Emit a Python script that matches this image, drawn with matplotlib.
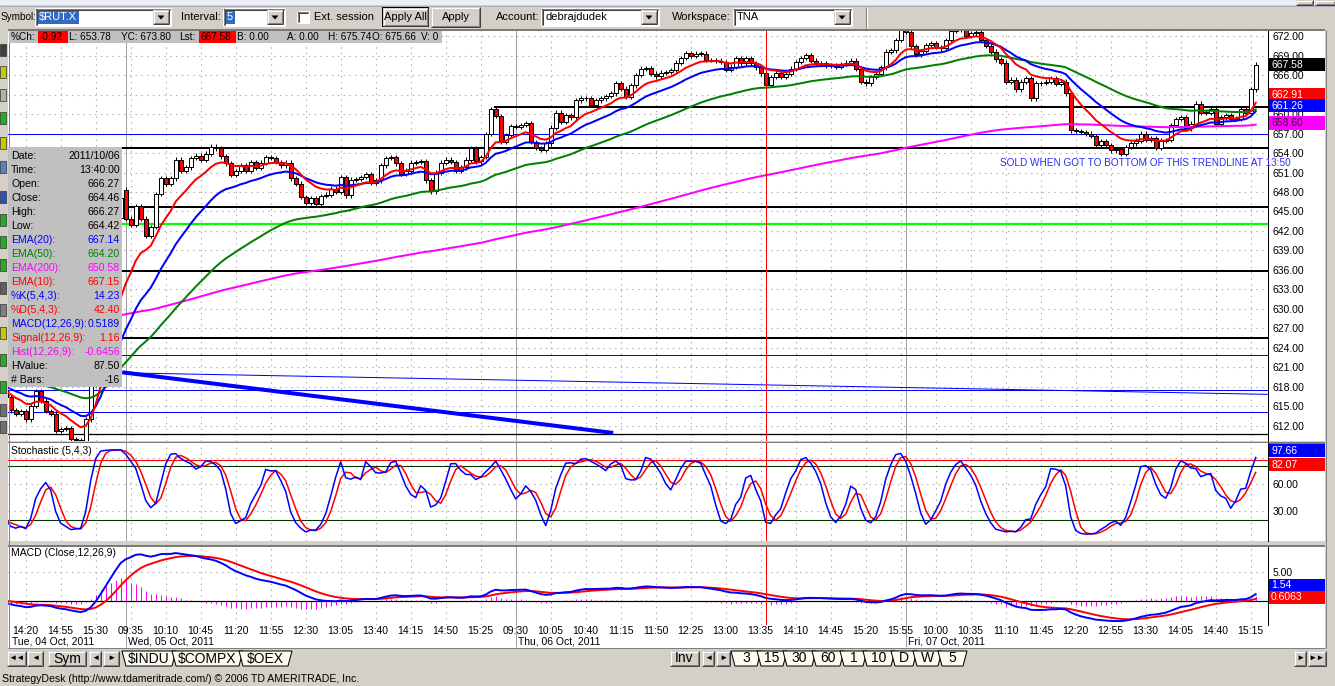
import numpy as np
import pandas as pd
import matplotlib
matplotlib.use("Agg")
import matplotlib.pyplot as plt
from matplotlib.patches import Rectangle, Polygon

plt.rcParams['font.family'] = ['Liberation Sans', 'DejaVu Sans']

# ---------------------------------------------------------------- data
# 5-minute closes of $RUT.X
OCT4_CLOSE = [616.5, 614.4, 613.9, 614.3, 613.0, 615.1, 617.4, 615.9, 614.3, 613.9,
              611.2, 611.5, 611.7, 610.0, 609.8, 609.4, 613.0, 618.4, 625.0, 631.0,
              636.0, 640.0, 644.0, 647.0]
OCT5_CLOSE = [643.9, 642.9, 645.8, 643.9, 641.3, 642.6, 647.7, 650.1, 649.3, 650.1,
              653.0, 651.2, 651.8, 653.2, 653.6, 652.9, 653.9, 655.0, 654.7, 653.5,
              652.4, 650.6, 651.2, 652.1, 651.3, 652.6, 651.7, 652.5, 653.4, 653.2,
              652.6, 652.1, 652.5, 650.1, 649.3, 647.2, 646.3, 647.0, 646.2, 647.4,
              647.6, 648.5, 648.0, 650.3, 647.5, 649.9, 650.0, 650.3, 650.7, 649.4,
              649.8, 652.1, 653.2, 653.4, 652.4, 650.8, 651.3, 652.5, 652.6, 652.7,
              649.8, 648.1, 651.0, 652.5, 653.0, 652.6, 651.3, 651.8, 653.0, 654.7,
              652.7, 653.4, 656.9, 660.8, 659.7, 655.7, 656.7, 658.1]
OCT6_CLOSE = [658.0, 658.3, 658.6, 655.7, 654.8, 654.5, 655.5, 657.9, 660.2, 658.8,
              659.8, 659.5, 662.1, 662.4, 662.4, 661.4, 662.1, 662.4, 662.75, 663.2,
              664.7, 663.9, 662.6, 664.4, 666.0, 667.0, 667.1, 666.2, 665.8, 666.35,
              666.5, 666.8, 667.9, 668.6, 669.4, 668.9, 669.3, 669.3, 668.3, 668.3,
              668.2, 668.0, 666.8, 667.3, 668.6, 667.8, 668.6, 667.8, 667.2, 666.27,
              664.46, 665.7, 666.35, 665.7, 666.2, 667.0, 668.0, 668.6, 669.1, 668.2,
              667.8, 667.8, 667.5, 667.5, 667.3, 667.7, 667.9, 668.2, 666.9, 665.0,
              664.7, 665.7, 666.2, 667.2, 669.6, 669.8, 671.4, 673.8]
OCT7_CLOSE = [672.6, 670.4, 669.2, 669.7, 670.6, 670.9, 670.3, 670.1, 671.4, 672.8,
              673.5, 673.0, 672.0, 672.4, 672.6, 671.4, 670.5, 669.6, 668.4, 667.9,
              665.0, 665.3, 663.8, 665.0, 665.5, 662.4, 664.7, 664.8, 665.0, 665.5,
              664.6, 665.0, 663.2, 657.5, 657.4, 657.2, 657.0, 656.6, 655.2, 655.8,
              655.2, 654.4, 654.6, 653.9, 654.9, 655.5, 655.9, 657.0, 656.0, 656.3,
              654.8, 655.9, 656.0, 658.3, 659.2, 659.5, 657.8, 658.5, 661.6, 660.2,
              660.2, 660.8, 658.5, 659.5, 659.8, 659.3, 659.3, 660.7, 660.2, 663.8,
              667.58]
FIRST_OPEN = 617.5
SESSION_OPENS = {24: 648.35, 180: 675.66}        # bar index -> open
HIGH_OVERRIDE = {180: 675.74, 152: 666.27}
LOW_OVERRIDE = {152: 664.42}
WICK = 0.35

EMA_SEEDS = {10: 617.6, 20: 618.2, 50: 619.5, 200: 631.5}
MACD_SEEDS = (617.5, 617.8, 0.2)

DRAWN_LEVELS = [661.13, 656.88, 654.72, 645.62, 643.08, 635.9, 625.57, 622.95, 617.47, 614.16, 610.77]
THICK_TREND = ((23.3, 620.25), (121.5, 610.92))
THIN_TREND = ((23.5, 620.17), (252.5, 616.86))

TIME_LABELS = ["14:20", "14:55", "15:30", "09:35", "10:10", "10:45", "11:20", "11:55", "12:30",
               "13:05", "13:40", "14:15", "14:50", "15:25", "09:30", "10:05", "10:40", "11:15",
               "11:50", "12:25", "13:00", "13:35", "14:10", "14:45", "15:20", "15:55", "10:00",
               "10:35", "11:10", "11:45", "12:20", "12:55", "13:30", "14:05", "14:40", "15:15"]
DATE_LABELS = ["Tue, 04 Oct, 2011", "Wed, 05 Oct, 2011", "Thu, 06 Oct, 2011", "Fri, 07 Oct, 2011"]
DAY_STARTS = [24, 102, 180]
CURSOR_BAR = 152

DW_LABELS = ["Date:", "Time:", "Open:", "Close:", "High:", "Low:", "EMA(20):", "EMA(50):",
             "EMA(200):", "EMA(10):", "%K(5,4,3):", "%D(5,4,3):", "MACD(12,26,9):",
             "Signal(12,26,9):", "Hist(12,26,9):", "HValue:", "# Bars:"]
DW_VALUES = ["2011/10/06", "13:40:00", "666.27", "664.46", "666.27", "664.42", "667.14", "664.20",
             "650.58", "667.15", "14.23", "42.40", "0.5189", "1.16", "-0.6456", "87.50", "-16"]

INFO_ITEMS = [("%Ch:", "-0.92"), ("L: 653.78", None), ("YC: 673.80", None), ("Lst:", "667.58"),
              ("B: 0.00", None), ("A: 0.00", None), ("H: 675.74", None), ("O: 675.66", None), ("V: 0", None)]

LAST = 667.58
EMA_LAST = {'ema10': 662.91, 'ema20': 661.26, 'ema200': 658.60}
STO_LAST = (97.66, 82.07)
MACD_LAST = (1.54, 0.6063)
NOTE = "SOLD WHEN GOT TO BOTTOM OF THIS TRENDLINE AT 13:50"

# ---------------------------------------------------------------- series
closes = np.array(OCT4_CLOSE + OCT5_CLOSE + OCT6_CLOSE + OCT7_CLOSE)
n = len(closes)
opens = np.r_[FIRST_OPEN, closes[:-1]]
for k, v in SESSION_OPENS.items():
    opens[k] = v
highs = np.maximum(opens, closes) + WICK
lows = np.minimum(opens, closes) - WICK
for k, v in HIGH_OVERRIDE.items():
    highs[k] = v
for k, v in LOW_OVERRIDE.items():
    lows[k] = v


def ema(x, span, seed):
    a = 2.0 / (span + 1)
    out, e = [], seed
    for v in x:
        e = e + a * (v - e)
        out.append(e)
    return np.array(out)


emas = {p: ema(closes, p, s) for p, s in EMA_SEEDS.items()}
e12 = ema(closes, 12, MACD_SEEDS[0])
e26 = ema(closes, 26, MACD_SEEDS[1])
macd = e12 - e26
signal = ema(macd, 9, MACD_SEEDS[2])
hist = macd - signal

sh = pd.Series(highs).rolling(5, min_periods=1).max()
sl = pd.Series(lows).rolling(5, min_periods=1).min()
num = (pd.Series(closes) - sl).rolling(4, min_periods=1).sum()
den = (sh - sl).rolling(4, min_periods=1).sum()
pk = (100 * num / den).values
pd_ = pd.Series(pk).rolling(3, min_periods=1).mean().values

# ---------------------------------------------------------------- figure
W, H = 1335, 686
PX = 0.72
fig = plt.figure(figsize=(W / 100, H / 100), dpi=100)
fig.patch.set_facecolor('#d4d0c8')


def overlay(z):
    a = fig.add_axes([0, 0, 1, 1], zorder=z)
    a.set_xlim(0, W)
    a.set_ylim(H, 0)
    a.axis('off')
    a.patch.set_alpha(0)
    return a


bg = overlay(0)
fg = overlay(10)


def px_axes(x0, y0, x1, y1, z=2):
    return fig.add_axes([x0 / W, 1 - y1 / H, (x1 - x0) / W, (y1 - y0) / H], zorder=z)


def rect(ax, x0, y0, x1, y1, fc, ec='none', lw=0, z=2):
    ax.add_patch(Rectangle((x0, y0), x1 - x0, y1 - y0, facecolor=fc, edgecolor=ec,
                           linewidth=lw, zorder=z))


def pl(ax, xs, ys, c, w=1.0, z=3):
    ax.plot(xs, ys, color=c, lw=w * PX, solid_capstyle='butt', zorder=z)


def raised(ax, x0, y0, x1, y1, z=2):
    rect(ax, x0, y0, x1, y1, '#d4d0c8', z=z)
    pl(ax, [x0, x1], [y0 + .5, y0 + .5], 'white', 1, z + .1)
    pl(ax, [x0 + .5, x0 + .5], [y0, y1], 'white', 1, z + .1)
    pl(ax, [x0, x1], [y1 - .5, y1 - .5], '#404040', 1, z + .1)
    pl(ax, [x1 - .5, x1 - .5], [y0, y1], '#404040', 1, z + .1)
    pl(ax, [x0 + 1, x1 - 1], [y1 - 1.5, y1 - 1.5], '#808080', 1, z + .1)
    pl(ax, [x1 - 1.5, x1 - 1.5], [y0 + 1, y1 - 1], '#808080', 1, z + .1)


def sunken(ax, x0, y0, x1, y1, fc='white', z=2):
    rect(ax, x0, y0, x1, y1, fc, z=z)
    pl(ax, [x0, x1], [y0 + .5, y0 + .5], '#808080', 1, z + .1)
    pl(ax, [x0 + .5, x0 + .5], [y0, y1], '#808080', 1, z + .1)
    pl(ax, [x0 + 1, x1 - 1], [y0 + 1.5, y0 + 1.5], '#404040', 1, z + .1)
    pl(ax, [x0 + 1.5, x0 + 1.5], [y0 + 1, y1 - 1], '#404040', 1, z + .1)
    pl(ax, [x0, x1], [y1 - .5, y1 - .5], 'white', 1, z + .1)
    pl(ax, [x1 - .5, x1 - .5], [y0, y1], 'white', 1, z + .1)


def combo(ax, x0, x1, text, hl_w=None):
    sunken(ax, x0, 8, x1, 26)
    if hl_w:
        rect(ax, x0 + 2.5, 10.5, x0 + 2.5 + hl_w, 23.5, '#316ac5', z=2.5)
        ax.text(x0 + 3.5, 17, text, fontsize=8, color='white', va='center', zorder=3)
    else:
        ax.text(x0 + 4, 17, text, fontsize=8, color='black', va='center', zorder=3)
    raised(ax, x1 - 18, 10, x1 - 2, 24, z=3)
    cx = x1 - 10
    ax.add_patch(Polygon([(cx - 3.5, 15.5), (cx + 3.5, 15.5), (cx, 19.5)], closed=True,
                         facecolor='black', edgecolor='none', zorder=4))


# chart background
rect(bg, 8, 30, 1325, 648, 'white', z=1)
rect(bg, 8, 441, 1325, 443, '#d4d0c8', z=1.5)
rect(bg, 8, 541, 1325, 546, '#d4d0c8', z=1.5)
pl(bg, [8, 1325], [442.5, 442.5], '#7a7a7a', 2, 2)
pl(bg, [8, 1325], [546, 546], '#7a7a7a', 2, 2)
rect(bg, 1325, 30, 1335, 648, '#d4d0c8', z=1.5)
pl(bg, [1325.5, 1325.5], [30, 648], '#808080', 1, 2)

# left tool strip icons
for y, c in [(50, '#404040'), (72, '#c8c800'), (95, '#b0b0b0'), (118, '#20b020'), (143, '#c8c800'),
             (167, '#6080c0'), (197, '#3050c0'), (220, '#20b020'), (242, '#20b020'), (265, '#20b020'),
             (288, '#606060'), (310, '#808080'), (333, '#c8c800'), (360, '#20b020'), (387, '#20b020'),
             (410, '#707070'), (427, '#707070')]:
    rect(bg, 0, y - 6, 6, y + 6, c, ec='#303030', lw=0.5, z=2)

# ---------------------------------------------------------------- panels
X0, X1 = (8 - 5.7) / 5, (1268 - 5.7) / 5
idx = np.arange(n)
label_idx = 4 + 7 * np.arange(len(TIME_LABELS))
DOT = (0, (1.2, 4))


def style_panel(ax, ylo, yhi):
    ax.set_xlim(X0, X1)
    ax.set_ylim(ylo, yhi)
    ax.set_facecolor('white')
    for s in ['left', 'top', 'bottom']:
        ax.spines[s].set_visible(False)
    ax.spines['right'].set_color('black')
    ax.spines['right'].set_linewidth(PX)
    ax.set_xticks([])
    ax.yaxis.tick_right()
    ax.tick_params(axis='y', length=0, pad=3, labelsize=7.5)
    ax.yaxis.set_major_formatter(matplotlib.ticker.FormatStrFormatter('%.2f'))
    for li in label_idx:
        ax.axvline(li, color='#a8a8a8', lw=0.8, ls=DOT, zorder=0.5)
    for d in DAY_STARTS:
        ax.axvline(d, color='#a0a0a0', lw=PX, zorder=1)
    ax.axvline(CURSOR_BAR, color='#ff0000', lw=PX, zorder=8)


# main price panel
ax = px_axes(8, 30, 1268, 441)
style_panel(ax, 609.68, 672.93)
yt = np.arange(612, 673, 3)
ax.set_yticks(yt)
for v in yt:
    ax.axhline(v, color='#a8a8a8', lw=0.8, ls=DOT, zorder=0.5)

level_styles = [('black', 2, 97.9), ('#0000ff', 1, None), ('black', 2, None), ('black', 2, None),
                ('#00ff00', 2.2, None), ('black', 2, None), ('black', 2, None), ('#0000ff', 1, None),
                ('#0000ff', 1, None), ('#0000ff', 1, None), ('black', 1.3, None)]
for v, (c, w, xs) in zip(DRAWN_LEVELS, level_styles):
    ax.plot([xs if xs else X0, X1], [v, v], color=c, lw=w * PX, zorder=2)
(tx0, ty0), (tx1, ty1) = THICK_TREND
ax.plot([tx0, tx1], [ty0, ty1], color='#0000ff', lw=4 * PX, zorder=2, solid_capstyle='butt')
(sx0, sy0), (sx1, sy1) = THIN_TREND
ax.plot([sx0, sx1], [sy0, sy1], color='#0000ff', lw=1 * PX, zorder=2)

up = closes >= opens
body_lo = np.minimum(opens, closes)
body_h = np.maximum(np.abs(closes - opens), 0.06)
ax.vlines(idx, lows, highs, color='black', lw=PX, zorder=3)
ax.bar(idx, body_h, bottom=body_lo, width=0.8, color=np.where(up, 'white', '#ff0000'),
       edgecolor='black', linewidth=PX, zorder=4)
ax.plot(idx, emas[200], color='#ff00ff', lw=2 * PX, zorder=5)
ax.plot(idx, emas[50], color='#008000', lw=2 * PX, zorder=5)
ax.plot(idx, emas[20], color='#0000ff', lw=2 * PX, zorder=5)
ax.plot(idx, emas[10], color='#ff0000', lw=2 * PX, zorder=5)

# stochastic panel
st = px_axes(8, 443, 1268, 541)
style_panel(st, -3.7, 106.4)
st.set_yticks([30, 60])
for v in [30, 60, 90]:
    st.axhline(v, color='#a8a8a8', lw=0.8, ls=DOT, zorder=0.5)
st.axhline(87.5, color='#ff0000', lw=1.1 * PX, zorder=2)
st.axhline(80, color='#003800', lw=1.1 * PX, zorder=2)
st.axhline(20, color='#003800', lw=1.1 * PX, zorder=2)
st.plot(idx, pd_, color='#ff0000', lw=1.1, zorder=4)
st.plot(idx, pk, color='#0000ff', lw=1.1, zorder=5)

# MACD panel
md = px_axes(8, 547, 1268, 625)
style_panel(md, -4.14, 9.31)
md.set_yticks([5])
md.axhline(5, color='#a8a8a8', lw=0.8, ls=DOT, zorder=0.5)
md.vlines(idx, 0, hist, color='#ff00ff', lw=1.0 * PX, zorder=2)
md.axhline(0, color='black', lw=1.2 * PX, zorder=3)
md.plot(idx, signal, color='#ff0000', lw=1.4, zorder=4)
md.plot(idx, macd, color='#0000ff', lw=1.4, zorder=5)


def xpx(i):
    return 5.7 + 5 * i


# borders on top
pl(fg, [8, 1325], [30, 30], '#7a7a7a', 2, 3)
pl(fg, [8.5, 8.5], [30, 648], '#808080', 1, 3)
pl(fg, [8, 1325], [647.5, 647.5], '#808080', 1, 3)
for d in DAY_STARTS:
    pl(fg, [xpx(d), xpx(d)], [625, 647], '#a0a0a0', 1, 2)

# x labels
for li, lab in zip(label_idx, TIME_LABELS):
    fg.text(xpx(li), 631, lab, ha='center', va='center', fontsize=7.5, zorder=4)
fg.text(12, 641.5, DATE_LABELS[0], ha='left', va='center', fontsize=7.5, zorder=4)
for d, lab in zip(DAY_STARTS, DATE_LABELS[1:]):
    fg.text(xpx(d) + 2, 641.5, lab, ha='left', va='center', fontsize=7.5, zorder=4)

fg.text(11, 451, "Stochastic (5,4,3)", fontsize=7.5, va='center', zorder=4)
fg.text(11, 553, "MACD (Close,12,26,9)", fontsize=7.5, va='center', zorder=4)

# note text
fg.text(1000, 163, NOTE, color='#2a2aff', fontsize=7.2, va='center', ha='left', zorder=4)


# right axis value boxes
def vbox(y, text, fc, tc='white', h=6.7):
    rect(fg, 1269, y - h, 1325, y + h, fc, z=5)
    fg.text(1271, y, text, color=tc, fontsize=7.5, va='center', ha='left', zorder=6)


def ymain(v):
    return 36 + (672 - v) * 6.483


vbox(ymain(LAST), f"{LAST:.2f}", 'black')
vbox(ymain(EMA_LAST['ema10']), f"{EMA_LAST['ema10']:.2f}", '#ff0000')
vbox(ymain(EMA_LAST['ema20']), f"{EMA_LAST['ema20']:.2f}", '#0000ff')
vbox(ymain(EMA_LAST['ema200']), f"{EMA_LAST['ema200']:.2f}", '#ff00ff', '#202020')
vbox(537.7 - 0.89 * STO_LAST[0], f"{STO_LAST[0]:.2f}", '#0000ff')
vbox(537.7 - 0.89 * STO_LAST[1], f"{STO_LAST[1]:.2f}", '#ff0000')
vbox(585.0, f"{MACD_LAST[0]:.2f}", '#0000ff', h=6.0)
vbox(601 - 5.8 * MACD_LAST[1], f"{MACD_LAST[1]:.4f}", '#ff0000', h=6.5)

# info bar
rect(fg, 9, 31, 442, 43, '#c0c0c0', z=5)
info_x = [11, 69, 121, 179, 237, 287, 328, 372, 421]
info_val_x = {0: (38, 68), 3: (199, 236)}
for k, ((lab, val), x) in enumerate(zip(INFO_ITEMS, info_x)):
    fg.text(x, 37, lab, fontsize=7.2, va='center', zorder=6)
    if val is not None:
        a, b = info_val_x[k]
        rect(fg, a, 31, b, 43, '#ff0000', z=5.5)
        fg.text(a + 1.5, 37, val, fontsize=7.2, va='center', zorder=6)

# data window
rect(fg, 8, 147, 122, 387, '#c0c0c0', z=5)
dw_colors = ['black'] * 6 + ['#0000ff', '#008000', '#ff00ff', '#ff0000', '#0000ff', '#ff0000',
                             '#0000ff', '#ff0000', '#ff00ff', 'black', 'black']
for r, (lab, val, c) in enumerate(zip(DW_LABELS, DW_VALUES, dw_colors)):
    y = 156 + 14 * r
    fg.text(11, y, lab, color=c, fontsize=7.6, va='center', ha='left', zorder=6)
    fg.text(120, y, val, color=c, fontsize=7.6, va='center', ha='right', zorder=6)

# ---------------------------------------------------------------- top toolbar
rect(bg, 0, 0, W, 5, '#eceff6', z=2)
pl(bg, [0, W], [5.5, 5.5], '#a8acb8', 1, 3)
bg.text(1, 17, "Symbol:", fontsize=7.2, ha='left', va='center', zorder=3)
combo(bg, 35, 171, "$RUT.X", hl_w=41)
bg.text(221, 17, "Interval:", fontsize=8, ha='right', va='center', zorder=3)
combo(bg, 223, 285, "5", hl_w=9)
sunken(bg, 297, 11, 309, 23)
bg.text(314, 17, "Ext. session", fontsize=8, va='center', zorder=3)
rect(bg, 382, 7, 429, 27, 'black', z=2)
raised(bg, 383, 8, 428, 26, z=2.2)
bg.text(405.5, 17, "Apply All", fontsize=8, ha='center', va='center', zorder=4)
raised(bg, 431, 7, 480, 27)
bg.text(455.5, 17, "Apply", fontsize=8, ha='center', va='center', zorder=4)
bg.text(539, 17, "Account:", fontsize=8, ha='right', va='center', zorder=3)
combo(bg, 541, 659, "debrajdudek")
bg.text(731, 17, "Workspace:", fontsize=8, ha='right', va='center', zorder=3)
combo(bg, 733, 852, "TNA")
pl(bg, [866, 866], [7, 29], '#808080', 1, 3)
pl(bg, [867, 867], [7, 29], 'white', 1, 3)
raised(bg, 1296, 0, 1313, 5)
raised(bg, 1315, 0, 1335, 5)

# ---------------------------------------------------------------- bottom toolbar
rect(bg, 0, 648, W, 686, '#d4d0c8', z=1)
for x0, x1, t in [(7, 26, '◄◄'), (27, 43, '◄'), (48, 86, 'Sym'), (89, 101, '◄'), (103, 119, '►'),
                  (670, 699, 'Inv'), (702, 714, '◄'), (716, 730, '►'),
                  (1294, 1306, '►'), (1308, 1326, '►►')]:
    raised(bg, x0, 651, x1, 666)
    fs = 10 if t in ('Sym', 'Inv') else 6
    bg.text((x0 + x1) / 2, 658.5, t, fontsize=fs, ha='center', va='center', zorder=4)
for x0, x1, t in [(122, 176, '$INDU'), (172, 243, '$COMPX'), (239, 292, '$OEX'),
                  (731, 761, '3'), (757, 787, '15'), (783, 816, '30'), (812, 844, '60'),
                  (840, 867, '1'), (863, 895, '10'), (891, 917, 'D'), (913, 942, 'W'), (938, 967, '5')]:
    bg.add_patch(Polygon([(x0, 651), (x1, 651), (x1 - 4, 666), (x0 + 4, 666)], closed=True,
                         facecolor='#fbfbf2', edgecolor='black', linewidth=PX, zorder=3))
    bg.text((x0 + x1) / 2, 658.5, t, fontsize=10, ha='center', va='center', zorder=4)
bg.text(2, 679, "StrategyDesk (http://www.tdameritrade.com/) © 2006 TD AMERITRADE, Inc.",
        fontsize=7.6, va='center', ha='left', zorder=3)

fig.savefig("out.png", dpi=100, facecolor=fig.get_facecolor())
